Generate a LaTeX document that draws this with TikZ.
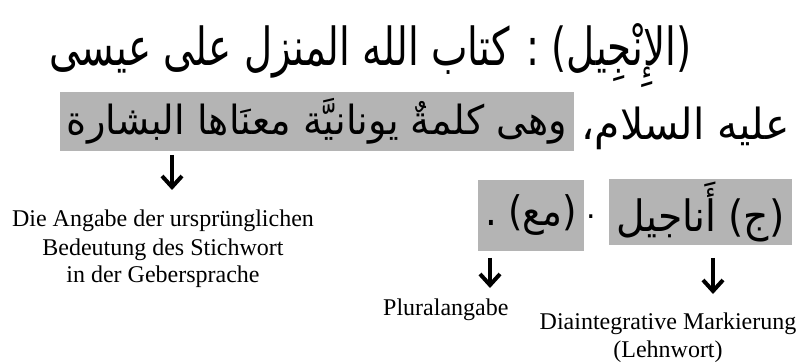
\documentclass[tikz,border=0pt]{standalone}
\usepackage{fontspec}
\usepackage{graphicx}
\setmainfont{Liberation Serif}
\newfontfamily\arabicfont[Script=Arabic]{DejaVu Sans}
\TeXXeTstate=1
\usetikzlibrary{arrows.meta}
\definecolor{markgray}{RGB}{180,180,180}
% Arabic run stretched to a given width (optional extra vertical stretch)
\newcommand\arrun[3][1]{\scalebox{1}[#1]{\resizebox{#2}{!}{\arabicfont #3}}}

\begin{document}
\begin{tikzpicture}[x=1pt,y=-1pt,
  arline/.style={inner sep=0pt},
  hilite/.style={fill=markgray, inner sep=0pt},
  gloss/.style={font=\fontsize{24}{28}\selectfont, align=center, inner sep=0pt},
  pointer/.style={line width=4pt,
    -{Straight Barb[length=11pt,width=20pt,line width=4pt]}}]
\useasboundingbox (0,0) rectangle (800,363);

% dictionary entry
\node[arline, anchor=base east] (head) at (692,66)
  {\arrun[1.35]{642pt}{\beginR (الإِنْجِيل) : كتاب الله المنزل على عيسى\endR}};
\node[arline, anchor=base east] (rest) at (790,140)
  {\arrun[1.05]{208pt}{\beginR عليه السلام،\endR}};
\node[hilite, minimum width=514pt, minimum height=59pt] (meaning) at (317,121.5)
  {\arrun[1.05]{500pt}{\beginR وهى كلمةٌ يونانيَّة معنَاها البشارة\endR}};
\node[hilite, minimum width=183pt, minimum height=66pt] (plural) at (700.5,212)
  {\arrun[1.1]{168pt}{\beginR (ج) أَناجيل\endR}};
\node[arline, anchor=base] (stop) at (591,219) {\arabicfont\fontsize{30}{30}\selectfont .};
\node[hilite, minimum width=106pt, minimum height=71pt] (pluralmark) at (531,215.5)
  {\arrun[1.1]{92pt}{\beginR (مع) .\endR}};

% explanations (anchored at the baseline of their last line)
\node[gloss, anchor=base] (origin) at (163,283)
  {Die Angabe der ursprünglichen\\Bedeutung des Stichwort\\in der Gebersprache};
\node[gloss, anchor=base west] (pluraltag) at (383,315) {Pluralangabe};
\node[gloss, anchor=base] (loanword) at (668,357)
  {Diaintegrative Markierung\\(Lehnwort)};

% pointers
\coordinate (p1) at (172,155); \coordinate (q1) at (172,190);
\coordinate (p2) at (490,258); \coordinate (q2) at (490,288);
\coordinate (p3) at (713,258); \coordinate (q3) at (713,294);
\draw[pointer] (p1) -- (q1);
\draw[pointer] (p2) -- (q2);
\draw[pointer] (p3) -- (q3);
\end{tikzpicture}
\end{document}
